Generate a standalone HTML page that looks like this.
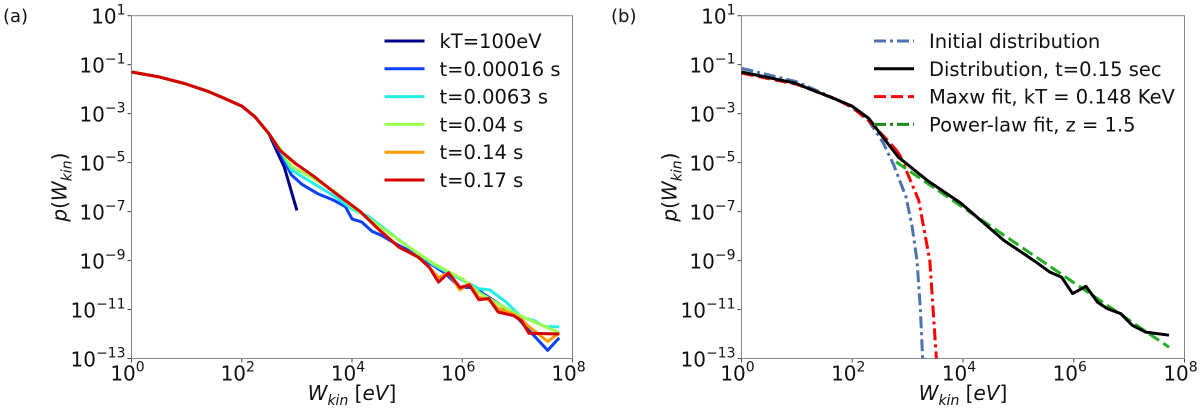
<!DOCTYPE html>
<html><head><meta charset="utf-8"><style>
body{margin:0;background:#fff;width:1200px;height:412px;overflow:hidden}
svg{display:block;font-family:"DejaVu Sans","Liberation Sans",sans-serif}
</style></head><body>
<svg id="s" width="1200" height="412"></svg>
<script>
const xDecades=[0,2,4,6,8];
const yDecades=[1,-1,-3,-5,-7,-9,-11,-13];
// panel (a) series: [log10 W, log10 p]
const head=[[0,-1.3],[0.5,-1.5],[0.96,-1.77],[1.4,-2.1],[1.69,-2.38],[2.0,-2.69],[2.24,-3.13],[2.49,-3.81]];
const kT100=head.concat([[2.65,-4.6],[2.77,-5.17],[3.0,-6.95]]);
const s1=head.concat([[2.7,-4.6],[2.9,-5.5],[3.1,-5.9],[3.38,-6.27],[3.67,-6.54],[3.88,-6.8],[4.0,-7.3],[4.18,-7.43],[4.36,-7.8],[4.53,-7.97],[4.78,-8.3],[5.13,-8.7],[5.4,-9.1],[5.68,-9.5],[5.96,-10.1],[6.24,-10.1],[6.38,-10.35],[6.65,-10.75],[6.93,-11.17],[7.21,-11.85],[7.55,-12.67],[7.76,-12.15]]);
const s2=head.concat([[2.7,-4.5],[2.9,-5.3],[3.3,-5.85],[3.7,-6.4],[4.0,-6.9],[4.3,-7.2],[5.0,-8.4],[5.5,-9.2],[6.0,-9.8],[6.3,-10.15],[6.5,-10.2],[6.8,-10.7],[7.07,-11.3],[7.3,-11.45],[7.5,-11.7],[7.76,-11.7]]);
const s3=head.concat([[2.7,-4.45],[2.9,-5.15],[3.3,-5.65],[3.7,-6.2],[4.0,-6.8],[4.5,-7.6],[5.0,-8.4],[5.5,-9.15],[6.0,-9.75],[6.3,-10.3],[6.6,-10.7],[7.0,-11.2],[7.4,-11.6],[7.76,-11.95]]);
const s4=head.concat([[2.69,-4.49],[2.97,-5.03],[3.32,-5.58],[3.63,-6.13],[4.15,-7.0],[4.5,-7.76],[4.85,-8.45],[5.2,-8.86],[5.4,-9.27],[5.57,-9.7],[5.75,-9.5],[5.96,-10.2],[6.13,-9.95],[6.3,-10.5],[6.48,-10.6],[6.65,-10.95],[6.93,-11.2],[7.07,-11.4],[7.21,-11.7],[7.55,-12.3],[7.76,-11.95]]);
const s5=head.concat([[2.69,-4.49],[2.97,-5.03],[3.32,-5.58],[3.63,-6.13],[4.15,-7.0],[4.5,-7.76],[4.85,-8.45],[5.2,-8.86],[5.4,-9.27],[5.57,-9.88],[5.75,-9.5],[5.96,-10.1],[6.13,-10.0],[6.3,-10.6],[6.48,-10.55],[6.65,-11.1],[6.93,-11.25],[7.07,-11.45],[7.21,-11.97],[7.76,-12.0]]);
// panel (b)
const initDist=[[0,-1.15],[1,-1.7],[1.7,-2.4],[2.0,-2.7],[2.3,-3.3],[2.56,-4.2],[2.75,-5.1],[2.97,-6.4],[3.08,-7.6],[3.17,-9.0],[3.23,-11],[3.27,-13]];
const dist015=[[0,-1.3],[0.96,-1.75],[1.69,-2.4],[2.0,-2.7],[2.3,-3.2],[2.5,-3.8],[2.83,-4.77],[3.35,-5.72],[3.97,-6.67],[4.39,-7.5],[4.74,-8.18],[5.15,-8.8],[5.36,-9.13],[5.57,-9.47],[5.78,-9.68],[5.98,-10.35],[6.22,-10.05],[6.43,-10.7],[6.6,-10.96],[6.85,-11.17],[7.06,-11.65],[7.3,-11.92],[7.72,-12.05]];
const maxwTop=[[0,-1.35],[1,-1.8],[1.7,-2.4],[2.0,-2.75],[2.3,-3.3],[2.6,-4.0],[2.8,-4.5]];
const maxwTail=[[2.8,-4.5],[2.86,-4.7],[3.2,-6.54],[3.4,-9.0],[3.52,-13]];
const powerLaw=[[2.79,-4.97],[7.72,-12.54]];
const NS="http://www.w3.org/2000/svg";
const svg=document.getElementById('s');
function el(t,a,p){const e=document.createElementNS(NS,t);for(const k in a)e.setAttribute(k,a[k]);(p||svg).appendChild(e);return e;}
const Y0=15.7,Y1=358.5;
function panel(x0,x1,label,id,lx){
  const g=el('g',{});
  
  
  const sx=v=>x0+(x1-x0)*v/8, sy=v=>Y0+(1-v)*(Y1-Y0)/14;
  xDecades.forEach(d=>{
    el('line',{x1:sx(d),x2:sx(d),y1:Y1,y2:Y1+4,stroke:'#444'},g);
    const t=el('text',{x:sx(d)-4,y:Y1+22,'text-anchor':'middle','font-size':20,fill:'#111'},g);
    
    
    t.textContent='10';
    const sp=el('tspan',{dy:-9,'font-size':14},t);sp.textContent=d;
  });
  yDecades.forEach(d=>{
    el('line',{x1:x0-4,x2:x0,y1:sy(d),y2:sy(d),stroke:'#444'},g);
    const t=el('text',{x:x0-6,y:sy(d)+8,'text-anchor':'end','font-size':20,fill:'#111'},g);
    
    
    t.textContent='10';
    const sp=el('tspan',{dy:-9,'font-size':14},t);sp.textContent=(d<0?'\u2212'+(-d):d);
  });
  el('rect',{x:x0,y:Y0,width:x1-x0,height:Y1-Y0,fill:'none',stroke:'#888','stroke-width':1},g);
  const xl=el('text',{x:(x0+x1)/2,y:400,'text-anchor':'middle','font-size':20,'font-style':'italic',fill:'#111'},g);
  
  
  xl.innerHTML='W<tspan font-size="14" dy="5">kin</tspan><tspan dy="-5" font-style="normal"> [</tspan>eV<tspan font-style="normal">]</tspan>';
  const yl=el('text',{transform:`translate(${x0-65},${(Y0+Y1)/2}) rotate(-90)`,'text-anchor':'middle','font-size':20,'font-style':'italic',fill:'#111'},g);
  
  
  yl.innerHTML='p<tspan font-style="normal">(</tspan>W<tspan font-size="14" dy="5">kin</tspan><tspan dy="-5" font-style="normal">)</tspan>';
  const pl=el('text',{x:lx,y:22,'font-size':18,fill:'#111'},g);
  
  
  pl.textContent=label;
  return {g,sx,sy};
}
function line(P,data,color,name,dash,w){
  const d=data.map((p,i)=>(i?'L':'M')+P.sx(p[0]).toFixed(1)+','+P.sy(p[1]).toFixed(1)).join('');
  const a={d,fill:'none',stroke:color,'stroke-width':w||3,'stroke-linejoin':'round'};
  if(dash)a['stroke-dasharray']=dash;
  const e=el('path',a,P.g);
  
  
}
function legend(g,x,items){
  items.forEach((it,i)=>{
    const y=41+i*27.8;
    const l=el('line',{x1:x,x2:x+40,y1:y,y2:y,stroke:it[1],'stroke-width':3},g);
    if(it[2])l.setAttribute('stroke-dasharray',it[2]);
    
    
    const t=el('text',{x:x+55,y:y+7,'font-size':19.5,fill:'#111'},g);
    
    
    t.textContent=it[0];
  });
}
const A=panel(131.5,572.5,'(a)','panel-a',3);
line(A,kT100,'#00008b','series-kt100');
line(A,s1,'#0a40ff','series-t00016');
line(A,s2,'#22eee6','series-t0063');
line(A,s3,'#9cff4e','series-t004');
line(A,s4,'#ff9a00','series-t014');
line(A,s5,'#d40000','series-t017');
legend(A.g,384.5,[['kT=100eV','#00008b'],['t=0.00016 s','#0a40ff'],['t=0.0063 s','#22eee6'],['t=0.04 s','#9cff4e'],['t=0.14 s','#ff9a00'],['t=0.17 s','#d40000']]);
const B=panel(741.5,1184.5,'(b)','panel-b',611);
line(B,initDist,'#4c72b0','series-initial','12,4,3,4');
line(B,maxwTop,'#ff0000','series-maxw-fit','12,5');
line(B,maxwTail,'#ff0000','series-maxw-tail','12,4,3,4');
line(B,powerLaw,'#22b022','series-power-law','12,5');
line(B,dist015,'#000','series-distribution');
legend(B.g,874,[['Initial distribution','#4c72b0','12,4,3,4'],['Distribution, t=0.15 sec','#000'],['Maxw fit, kT = 0.148 KeV','#ff0000','12,5'],['Power-law fit, z = 1.5','#1a8a1a','12,4,3,4']]);
</script>
</body></html>
